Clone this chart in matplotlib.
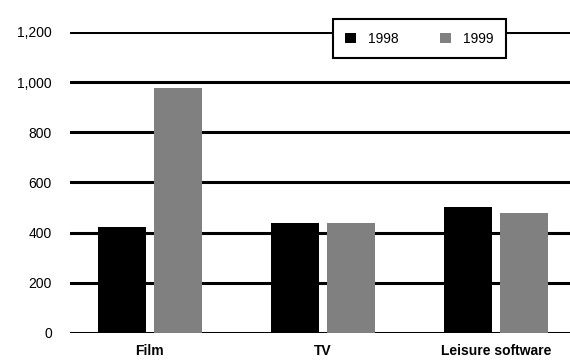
import numpy as np
import matplotlib.pyplot as plt

categories = ['Film', 'TV', 'Leisure software']
years = ['1998', '1999']
values_1998 = [423, 438, 502]
values_1999 = [977, 438, 478]
colors = ['#000000', '#808080']

plt.rcParams['font.family'] = ['Liberation Sans', 'DejaVu Sans']

fig = plt.figure(figsize=(5.70, 3.61), dpi=100)
ax = fig.add_axes([0.1228, 0.0776, 0.8772, 0.8338])

x = np.arange(len(categories))
width = 0.277
offset = 0.162

ax.bar(x - offset, values_1998, width, color=colors[0], label=years[0], zorder=3)
ax.bar(x + offset, values_1999, width, color=colors[1], label=years[1], zorder=3)

# horizontal rules behind the bars
ax.set_ylim(0, 1200)
ax.set_yticks(np.arange(0, 1201, 200))
ax.set_yticklabels([f'{v:,}' for v in range(0, 1201, 200)], fontsize=10)
ax.yaxis.grid(True, color='black', linewidth=2.2, zorder=0)
ax.set_axisbelow(True)

ax.set_xlim(-0.462, 2.428)
ax.set_xticks(x)
ax.set_xticklabels(categories, fontsize=10, fontweight='bold')

ax.tick_params(axis='both', length=0)
ax.tick_params(axis='y', pad=13)
ax.tick_params(axis='x', pad=8)
for side in ['top', 'right', 'left', 'bottom']:
    ax.spines[side].set_visible(False)

leg = ax.legend(loc='center', bbox_to_anchor=(0.736, 0.892), bbox_transform=fig.transFigure,
                ncol=2, fontsize=10, frameon=True, fancybox=False, framealpha=1,
                edgecolor='black', handlelength=0.75, handleheight=0.75,
                handletextpad=0.9, columnspacing=3.0, borderpad=0.9)
leg.get_frame().set_linewidth(1.5)
leg.set_zorder(5)

fig.savefig('out.png', dpi=100)
